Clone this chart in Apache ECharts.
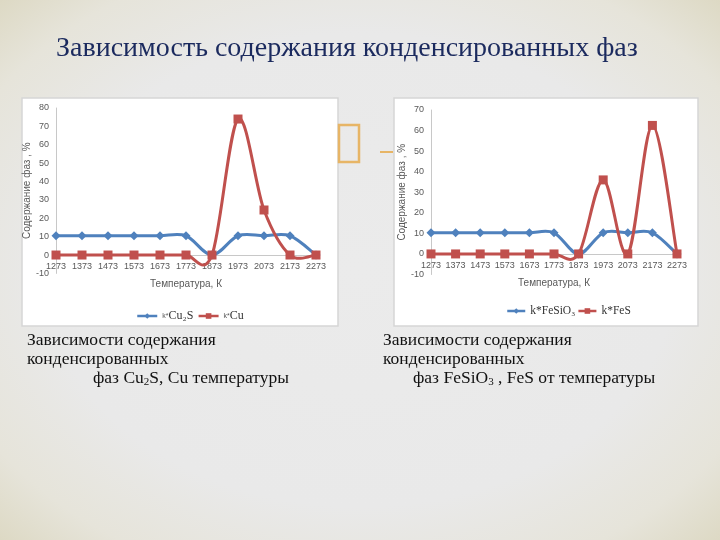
<!DOCTYPE html>
<html><head><meta charset="utf-8">
<script src="https://cdn.jsdelivr.net/npm/echarts@6/dist/echarts.min.js"></script>
<style>
html,body{margin:0;padding:0;}
body{width:720px;height:540px;background:radial-gradient(ellipse at center,#ebebeb 0%,#e9e9e9 62%,#e6e4da 85%,#ddd9c4 100%);}
#c{width:720px;height:540px;}
</style></head><body>
<div id="c"></div>
<script>
var temps = ['1273','1373','1473','1573','1673','1773','1873','1973','2073','2173','2273'];
var cu2s  = [10.5,10.5,10.5,10.5,10.5,10.5,0,10.5,10.5,10.5,0];
var cu    = [0,0,0,0,0,0,0,74,24.5,0,0];
var fesio3 = [10.3,10.3,10.3,10.3,10.3,10.3,0,10.3,10.3,10.3,0];
var fes    = [0,0,0,0,0,0,0,36,0,62.5,0];
var leftNames = ['k* Cu₂S','k* Cu'];
var rightNames = ['k*FeSiO₃','k*FeS'];

var blue='#4f81bd', red='#c0504d';
var chart = echarts.init(document.getElementById('c'));
function xAx(gi,off){return {type:'category',gridIndex:gi,data:temps,boundaryGap:false,
  offset:off,
  axisLine:{onZero:false,lineStyle:{color:'#c8c8c8',width:1}},axisTick:{show:false},
  axisLabel:{color:'#595959',fontSize:9,fontFamily:'Liberation Sans',margin:7,interval:0},
  name:'Температура, К',nameLocation:'middle',nameGap:24,
  nameTextStyle:{color:'#595959',fontSize:10,fontFamily:'Liberation Sans'}};}
function yAx(gi,max){return {type:'value',gridIndex:gi,min:-10,max:max,interval:10,
  axisLine:{show:true,lineStyle:{color:'#c8c8c8',width:1}},axisTick:{show:false},splitLine:{show:false},
  axisLabel:{color:'#595959',fontSize:9,fontFamily:'Liberation Sans',margin:7},
  name:'Содержание фаз , %',nameLocation:'middle',nameRotate:90,nameGap:20,
  nameTextStyle:{color:'#595959',fontSize:10,fontFamily:'Liberation Sans'}};}
// markers (and legend entries) through a line series; curve itself drawn as Excel-like Catmull-Rom spline
function ser(name,data,gi,color,sym,size){return {name:name,type:'line',xAxisIndex:gi,yAxisIndex:gi,data:data,
  z:3,symbol:sym,symbolSize:size,showSymbol:true,
  lineStyle:{color:color,width:3,opacity:0},itemStyle:{color:color}};}
function curve(data,gi,color){return {type:'custom',xAxisIndex:gi,yAxisIndex:gi,z:1,silent:true,
  data:[[0,data[0]]],
  renderItem:function(params,api){
    var p=data.map(function(v,i){return api.coord([i,v]);});
    var n=p.length, d='M'+p[0][0]+','+p[0][1];
    for(var i=0;i<n-1;i++){
      var p0=p[Math.max(i-1,0)],p1=p[i],p2=p[i+1],p3=p[Math.min(i+2,n-1)];
      var c1=[p1[0]+(p2[0]-p0[0])/6,p1[1]+(p2[1]-p0[1])/6];
      var c2=[p2[0]-(p3[0]-p1[0])/6,p2[1]-(p3[1]-p1[1])/6];
      d+=' C'+c1[0]+','+c1[1]+' '+c2[0]+','+c2[1]+' '+p2[0]+','+p2[1];
    }
    return {type:'path',shape:{pathData:d},style:{stroke:color,lineWidth:3,fill:null}};
  }};}
var rich={a:{fontFamily:'Liberation Sans',fontSize:7,color:'#595959'},b:{fontFamily:'Liberation Serif',fontSize:12,color:'#333'}};
var rich2={b:{fontFamily:'Liberation Serif',fontSize:11.5,color:'#333'}};
chart.setOption({
  animation:false,
  title:{text:'Зависимость содержания конденсированных фаз',left:51,top:30,
    textStyle:{fontFamily:'Liberation Serif',fontSize:28,fontWeight:'normal',color:'#1b2a5e'}},
  grid:[{left:56,right:404,top:108,bottom:266.6,containLabel:false},
        {left:431,right:43,top:110,bottom:265.5,containLabel:false}],
  xAxis:[xAx(0,-18.4),xAx(1,-20.6)],
  yAxis:[yAx(0,80),yAx(1,70)],
  legend:[
   {data:leftNames,left:131,top:305,itemWidth:20,itemHeight:7,itemGap:4,
    lineStyle:{opacity:1,width:2.5},
    formatter:function(n){var p=n.split(' ');return '{a|'+p[0]+'}{b|'+p.slice(1).join(' ')+'}';},
    textStyle:{rich:rich}},
   {data:rightNames,left:501,top:300,itemWidth:18,itemHeight:7,itemGap:2,
    lineStyle:{opacity:1,width:2.5},
    formatter:function(n){return '{b|'+n+'}';},
    textStyle:{rich:rich2}}
  ],
  series:[curve(cu2s,0,blue),curve(cu,0,red),curve(fesio3,1,blue),curve(fes,1,red),
          ser(leftNames[0],cu2s,0,blue,'diamond',9),ser(leftNames[1],cu,0,red,'rect',9),
          ser(rightNames[0],fesio3,1,blue,'diamond',9),ser(rightNames[1],fes,1,red,'rect',9)],
  graphic:[
   {type:'rect',z:-10,shape:{x:22,y:98,width:316,height:228},style:{fill:'#ffffff',stroke:'#d6d6d6',lineWidth:1.5}},
   {type:'rect',z:-10,shape:{x:394,y:98,width:304,height:228},style:{fill:'#ffffff',stroke:'#d6d6d6',lineWidth:1.5}},
   {type:'rect',shape:{x:339,y:125,width:20,height:37},style:{fill:'none',stroke:'#e7b566',lineWidth:2.5}},
   {type:'line',shape:{x1:380,y1:152,x2:393,y2:152},style:{stroke:'#e7b566',lineWidth:2}},
   {type:'text',left:27,top:331,style:{text:'Зависимости содержания\nконденсированных',font:'17.5px "Liberation Serif"',fill:'#111',lineHeight:19}},
   {type:'text',left:93,top:369,style:{text:'фаз {s|Cu}{sub|2}{s|S, Cu температуры}',font:'17.5px "Liberation Serif"',fill:'#111',
     rich:{s:{font:'17.5px "Liberation Serif"',fill:'#111'},sub:{font:'11px "Liberation Serif"',fill:'#111',padding:[9,0,0,0]}}}},
   {type:'text',left:383,top:331,style:{text:'Зависимости содержания\nконденсированных',font:'17.5px "Liberation Serif"',fill:'#111',lineHeight:19}},
   {type:'text',left:413,top:369,style:{text:'фаз {s|FeSiO}{sub|3}{s| , FeS от температуры}',font:'17.5px "Liberation Serif"',fill:'#111',
     rich:{s:{font:'17.5px "Liberation Serif"',fill:'#111'},sub:{font:'11px "Liberation Serif"',fill:'#111',padding:[9,0,0,0]}}}}
  ]
});
</script>
</body></html>
